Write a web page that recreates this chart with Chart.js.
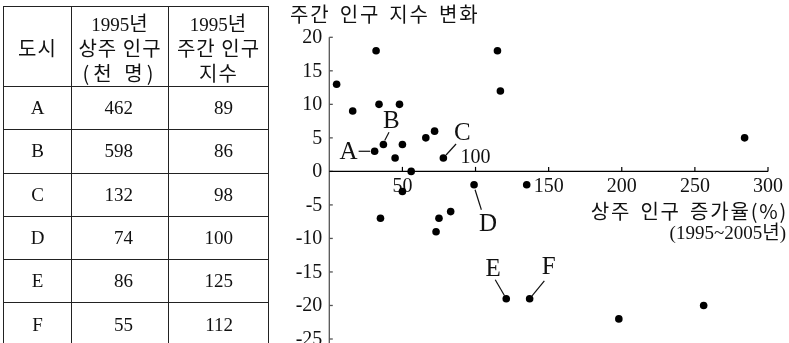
<!DOCTYPE html>
<html>
<head>
<meta charset="utf-8">
<script src="https://cdn.jsdelivr.net/npm/chart.js@4"></script>
<style>
    body { margin: 0; background: #fff; }
    #wrap { position: relative; width: 789px; height: 343px; overflow: hidden; }
    #chart { position: absolute; left: 0; top: 0; }
    #cityTable {
        position: absolute; left: 3px; top: 6px;
        border-collapse: collapse;
        font-family: 'Liberation Serif', 'Noto Sans CJK KR', serif;
        font-size: 19px; color: #111;
    }
    #cityTable td, #cityTable th {
        border: 1px solid #222; padding: 0; font-weight: normal;
    }
    #cityTable th { height: 76px; line-height: 23px; padding-top: 4px; box-sizing: border-box; }
    #cityTable th .ko { font-family: 'Noto Sans CJK KR', sans-serif; font-size: 20px; letter-spacing: 1px; }
    #cityTable td { height: 43.3px; box-sizing: border-box; }
    #cityTable td.num { text-align: right; padding-right: 35px; }
    #cityTable td.city { text-align: center; }
</style>
</head>
<body>
<div id="wrap">
    <canvas id="chart" width="789" height="343"></canvas>
    <table id="cityTable"></table>
</div>
<script>
// table values
const cities = ['A', 'B', 'C', 'D', 'E', 'F'];
const residents1995 = [462, 598, 132, 74, 86, 55];
const dayIndex1995 = [89, 86, 98, 100, 125, 112];

// scatter values: x = resident growth (%), y = change of daytime index
const growthRate = [5, 32, 16, 34, 48, 31, 37, 50, 45, 56, 50, 35, 66, 72, 78, 75, 83, 73, 99, 115, 117, 121, 135, 137, 198, 256, 284];
const indexChange = [13, 18, 9, 10, 10, 3, 4, 4, 2, 0, -3, -7, 5, 6, 2, -7, -6, -9, -2, 18, 12, -19, -2, -19, -22, -20, 5];
const pointTags = ['', '', '', '', '', 'A', 'B', '', '', '', '', '', '', '', 'C', '', '', '', 'D', '', '', 'E', '', 'F', '', '', ''];

const xTicks = [50, 100, 150, 200, 250, 300];
const yTicks = [20, 15, 10, 5, 0, -5, -10, -15, -20, -25];

function buildTable() {
    const table = document.getElementById('cityTable');
    let html = `<tr>
        <th style="width:68px"><span class="ko">도시</span></th>
        <th style="width:97px">1995<span class="ko">년</span><br><span class="ko">상주 인구</span><br><span class="ko" style="letter-spacing:4px">(천 명)</span></th>
        <th style="width:100px">1995<span class="ko">년</span><br><span class="ko">주간 인구</span><br><span class="ko">지수</span></th>
    </tr>`;
    html += cities.map((c, i) => `
        <tr>
            <td class="city">${c}</td>
            <td class="num">${residents1995[i]}</td>
            <td class="num">${dayIndex1995[i]}</td>
        </tr>`).join('');
    table.innerHTML = html;
}

// label placement next to tagged points (pixel offsets)
const tagStyle = {
    A: { tx: -26, ty: 1, l: [-16, 0, -4.5, 0] },
    B: { tx: 8, ty: -23, l: [5.6, -12.4, 1.3, -4] },
    C: { tx: 19, ty: -25, l: [12.7, -14, 2.7, -3] },
    D: { tx: 14, ty: 40, l: [1, 5, 7.3, 25] },
    E: { tx: -13, ty: -29, l: [-11, -19, -1.7, -3] },
    F: { tx: 19, ty: -31, l: [14.7, -18, 2.4, -3] }
};
const ticksAbove = [100];
const serif = "'Liberation Serif', 'Noto Sans CJK KR', serif";
const korean = "'Noto Sans CJK KR', sans-serif";

const axesPlugin = {
    id: 'axes',
    beforeDatasetsDraw(chart) {
        const { ctx, scales: { x, y } } = chart;
        const x0 = x.getPixelForValue(0);
        const y0 = y.getPixelForValue(0);
        ctx.save();

        // y axis
        ctx.strokeStyle = '#555';
        ctx.lineWidth = 1.3;
        ctx.beginPath();
        ctx.moveTo(x0, y.getPixelForValue(20));
        ctx.lineTo(x0, chart.height + 5);
        ctx.stroke();
        ctx.font = `20px ${serif}`;
        ctx.fillStyle = '#111';
        ctx.textAlign = 'right';
        ctx.textBaseline = 'middle';
        yTicks.forEach(v => {
            const py = y.getPixelForValue(v);
            ctx.beginPath();
            ctx.moveTo(x0, py);
            ctx.lineTo(x0 + 3.5, py);
            ctx.stroke();
            ctx.fillText(String(v), x0 - 7, py + 0.5);
        });

        // x axis
        ctx.strokeStyle = '#000';
        ctx.lineWidth = 1.2;
        ctx.beginPath();
        ctx.moveTo(x0, y0);
        ctx.lineTo(x.getPixelForValue(300), y0);
        ctx.stroke();
        ctx.textAlign = 'center';
        xTicks.forEach(v => {
            const px = x.getPixelForValue(v);
            ctx.beginPath();
            ctx.moveTo(px, y0);
            ctx.lineTo(px, y0 - 4.5);
            ctx.stroke();
            const ly = ticksAbove.includes(v) ? y0 - 13.5 : y0 + 15;
            ctx.fillText(String(v), px, ly);
        });

        // titles
        ctx.fillStyle = '#111';
        ctx.font = `20px ${korean}`;
        ctx.letterSpacing = '1.8px';
        ctx.wordSpacing = '3px';
        ctx.textAlign = 'left';
        ctx.fillText('주간 인구 지수 변화', 290, 14);
        ctx.textAlign = 'right';
        ctx.fillText('상주 인구 증가율(%)', 788, 211);
        ctx.letterSpacing = '0px';
        ctx.wordSpacing = '0px';
        ctx.font = `19px ${serif}`;
        ctx.fillText('(1995~2005년)', 786, 234);
        ctx.restore();
    },
    afterDatasetsDraw(chart) {
        const { ctx } = chart;
        const meta = chart.getDatasetMeta(0);
        ctx.save();
        ctx.font = `25px ${serif}`;
        ctx.fillStyle = '#111';
        ctx.strokeStyle = '#111';
        ctx.lineWidth = 1.2;
        ctx.textAlign = 'center';
        ctx.textBaseline = 'middle';
        pointTags.forEach((tag, i) => {
            if (!tag) return;
            const p = meta.data[i];
            const s = tagStyle[tag];
            ctx.beginPath();
            ctx.moveTo(p.x + s.l[0], p.y + s.l[1]);
            ctx.lineTo(p.x + s.l[2], p.y + s.l[3]);
            ctx.stroke();
            ctx.fillText(tag, p.x + s.tx, p.y + s.ty);
        });
        ctx.restore();
    }
};

function drawChart() {
    const ctx = document.getElementById('chart').getContext('2d');
    new Chart(ctx, {
        type: 'scatter',
        data: {
            datasets: [{
                data: growthRate.map((g, i) => ({ x: g, y: indexChange[i] })),
                backgroundColor: '#000',
                borderWidth: 0,
                pointRadius: 3.8,
                clip: false
            }]
        },
        options: {
            responsive: false,
            animation: false,
            devicePixelRatio: 1,
            layout: { padding: { left: 329.3, right: 21, top: 37.3, bottom: 0 } },
            scales: {
                x: { type: 'linear', min: 0, max: 300, display: false },
                y: { type: 'linear', min: -25, max: 20, display: false }
            },
            plugins: {
                legend: { display: false },
                tooltip: { enabled: false }
            }
        },
        plugins: [axesPlugin]
    });
}

buildTable();
drawChart();
</script>
</body>
</html>
